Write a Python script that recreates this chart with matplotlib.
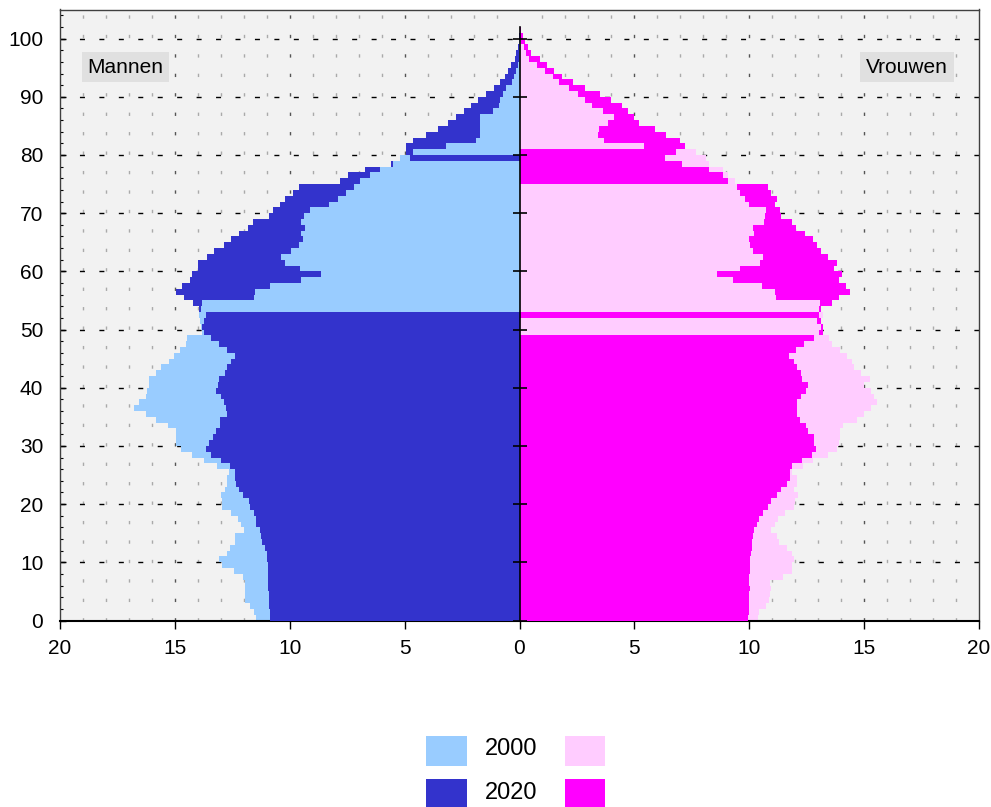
import numpy as np
import matplotlib
matplotlib.use("Agg")
import matplotlib.pyplot as plt
from matplotlib.patches import Rectangle

plt.rcParams['font.family'] = ['Liberation Sans', 'DejaVu Sans']

# age 0 .. 101, share per age
ages = np.arange(102)

men_2000 = [11.48, 11.55, 11.74, 11.96, 11.96, 11.96, 11.96, 12.03, 12.43, 12.93,
            13.07, 12.75, 12.61, 12.39, 12.39, 11.99, 12.13, 12.25, 12.57, 12.94,
            12.94, 13.00, 12.80, 12.75, 12.75, 12.64, 13.16, 13.74, 14.25, 14.74,
            14.96, 14.96, 14.96, 15.29, 15.80, 16.26, 16.78, 16.57, 16.26, 16.20,
            16.12, 16.12, 15.83, 15.60, 15.26, 15.04, 14.78, 14.52, 14.46, 13.84,
            13.88, 13.91, 13.94, 13.87, 13.83, 11.57, 11.52, 10.87, 9.52, 8.65,
            9.57, 10.22, 10.39, 9.96, 9.61, 9.42, 9.49, 9.35, 9.52, 9.39,
            9.13, 8.30, 7.90, 7.54, 7.22, 6.96, 6.52, 6.09, 5.51, 5.20,
            4.64, 3.19, 1.88, 1.71, 1.71, 1.74, 1.74, 1.16, 0.90, 0.87,
            0.72, 0.58, 0.32, 0.22, 0.14, 0.07, 0.04, 0.03, 0.02, 0.01,
            0.00, 0.00]

men_2020 = [10.84, 10.87, 10.90, 10.91, 10.91, 10.94, 10.94, 10.94, 10.94, 10.94,
            10.99, 11.01, 11.09, 11.19, 11.26, 11.30, 11.45, 11.45, 11.55, 11.71,
            11.77, 12.03, 12.20, 12.35, 12.39, 12.39, 12.58, 13.00, 13.41, 13.65,
            13.52, 13.33, 13.22, 13.04, 13.04, 12.75, 12.78, 12.87, 12.99, 13.22,
            13.13, 13.07, 12.83, 12.71, 12.57, 12.39, 12.71, 13.07, 13.43, 13.74,
            13.80, 13.74, 13.65, 13.96, 14.22, 14.61, 14.96, 14.70, 14.35, 14.25,
            13.99, 13.99, 13.61, 13.30, 12.87, 12.57, 12.22, 11.81, 11.59, 10.90,
            10.72, 10.43, 10.22, 9.86, 9.61, 7.83, 7.46, 6.74, 5.61, 4.78,
            4.96, 4.96, 4.64, 4.09, 3.55, 3.12, 2.78, 2.42, 2.13, 1.81,
            1.45, 1.12, 0.87, 0.65, 0.51, 0.36, 0.19, 0.14, 0.07, 0.03,
            0.02, 0.00]

women_2000 = [10.36, 10.43, 10.72, 10.87, 10.91, 10.94, 10.91, 11.45, 11.84, 11.88,
              11.96, 11.88, 11.64, 11.30, 11.20, 10.94, 11.13, 11.23, 11.55, 11.96,
              11.99, 12.13, 11.96, 12.07, 12.07, 11.88, 12.32, 12.78, 13.41, 13.84,
              13.91, 13.96, 13.96, 14.10, 14.71, 15.00, 15.30, 15.58, 15.43, 15.29,
              15.00, 15.25, 14.86, 14.57, 14.46, 14.25, 13.94, 13.58, 13.48, 13.04,
              13.12, 12.97, 13.19, 13.04, 13.09, 11.17, 11.13, 10.55, 9.30, 8.59,
              9.61, 10.48, 10.61, 10.17, 10.04, 10.00, 10.22, 10.17, 10.65, 10.68,
              10.72, 10.00, 9.83, 9.60, 9.46, 9.38, 9.06, 8.84, 8.26, 8.12,
              7.68, 5.43, 3.67, 3.41, 3.48, 3.84, 4.13, 3.62, 3.14, 2.83,
              2.54, 2.17, 1.74, 1.45, 1.09, 0.77, 0.43, 0.29, 0.19, 0.07,
              0.03, 0.00]

women_2020 = [9.93, 9.97, 10.00, 10.00, 10.00, 10.04, 10.00, 10.00, 10.04, 10.04,
              10.04, 10.07, 10.10, 10.10, 10.17, 10.22, 10.33, 10.43, 10.62, 10.80,
              10.94, 11.20, 11.38, 11.64, 11.78, 11.78, 11.86, 12.29, 12.72, 12.90,
              12.83, 12.83, 12.57, 12.46, 12.22, 12.10, 12.07, 12.10, 12.25, 12.46,
              12.54, 12.28, 12.25, 12.10, 11.93, 11.74, 12.03, 12.39, 12.83, 13.19,
              13.19, 13.12, 13.04, 13.14, 13.62, 13.91, 14.38, 14.20, 13.91, 14.03,
              13.67, 13.84, 13.41, 13.14, 12.94, 12.78, 12.42, 12.03, 11.86, 11.38,
              11.34, 11.12, 11.20, 10.94, 10.83, 9.06, 8.84, 8.26, 7.07, 6.33,
              6.81, 7.20, 6.99, 6.38, 5.90, 5.22, 5.00, 4.71, 4.45, 3.99,
              3.52, 2.83, 2.33, 1.86, 1.52, 1.20, 0.91, 0.51, 0.36, 0.25,
              0.15, 0.07]

years = ['2000', '2020']
sides = ['Mannen', 'Vrouwen']
x_ticks = [-20, -15, -10, -5, 0, 5, 10, 15, 20]
y_ticks = list(range(0, 101, 10))

c_men = ['#99ccff', '#3333cc']
c_women = ['#ffccff', '#ff00ff']

W, H = 991, 807
fig = plt.figure(figsize=(W / 100, H / 100), dpi=100)
ax = fig.add_axes([60 / W, (H - 620.5) / H, 919 / W, 611 / H])
ax.set_facecolor('#f2f2f2')


def half(ax, old, new, cols, sign):
    old = np.asarray(old)
    new = np.asarray(new)
    # the smaller of the two years is always drawn in front
    big = np.maximum(old, new)
    small = np.minimum(old, new)
    big_col = np.where(old >= new, cols[0], cols[1])
    small_col = np.where(old >= new, cols[1], cols[0])
    ax.barh(ages, sign * big, height=1, align='edge', color=list(big_col),
            linewidth=0, antialiased=False, zorder=2)
    ax.barh(ages, sign * small, height=1, align='edge', color=list(small_col),
            linewidth=0, antialiased=False, zorder=3)


half(ax, men_2000, men_2020, c_men, -1)
half(ax, women_2000, women_2020, c_women, 1)

# grid
for x in range(-19, 20):
    if x == 0:
        continue
    col = '#555555' if x % 5 == 0 else '#aaaaaa'
    ax.axvline(x, color=col, lw=1.0, linestyle=(0, (2.4, 11.6)), zorder=1)
for y in y_ticks[1:]:
    ax.axhline(y, color='black', lw=1.0, linestyle=(0, (3.6, 10.4)), zorder=1)

# centre axis
ax.plot([0, 0], [0, 102], color='black', lw=1.2, zorder=4)
ax.plot(np.zeros(len(y_ticks)), y_ticks, ls='none', marker='_', ms=9.5,
        mew=1.2, color='black', zorder=4)

ax.set_xlim(-20, 20)
ax.set_ylim(0, 105)
ax.set_xticks(x_ticks)
ax.set_xticklabels([str(abs(v)) for v in x_ticks])
ax.set_yticks(y_ticks)
ax.set_yticks(range(0, 105, 2), minor=True)
ax.tick_params(axis='x', direction='out', length=6, width=1, labelsize=15, pad=7)
ax.tick_params(axis='y', which='major', direction='in', length=4, width=1,
               labelsize=15, pad=12)
ax.tick_params(axis='y', which='minor', direction='in', length=2.5, width=0.8)
ax.tick_params(axis='x', which='minor', bottom=False)

for s in ['left', 'top', 'right']:
    ax.spines[s].set_color('#404040')
    ax.spines[s].set_linewidth(1.0)
ax.spines['bottom'].set_color('black')
ax.spines['bottom'].set_linewidth(1.5)

box = dict(boxstyle='square,pad=0.28', fc='#e0e0e0', ec='none')
ax.text(-18.8, 95.1, sides[0], fontsize=15, ha='left', va='center', bbox=box, zorder=5)
ax.text(18.65, 95.1, sides[1], fontsize=15, ha='right', va='center', bbox=box, zorder=5)

# legend drawn by hand: year label between the men and women colour
rows = [(736, 766, 749), (779, 809, 793)]
for i, (top, bot, mid) in enumerate(rows):
    for x0, x1, col in [(426, 467, c_men[i]), (565, 605, c_women[i])]:
        fig.add_artist(Rectangle((x0 / W, 1 - bot / H), (x1 - x0) / W, (bot - top) / H,
                                 transform=fig.transFigure, fc=col, ec='none'))
    fig.text(511 / W, 1 - mid / H, years[i], fontsize=17, ha='center', va='center')

fig.savefig('out.png', dpi=100)
